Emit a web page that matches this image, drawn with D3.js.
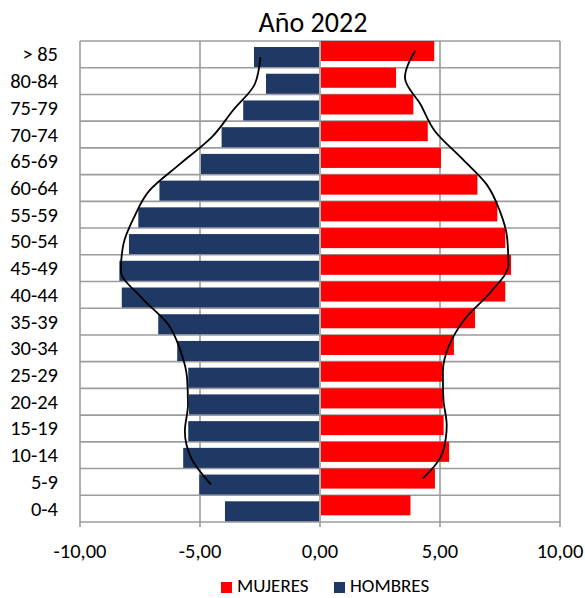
<!DOCTYPE html>
<html>
<head>
<meta charset="utf-8">
<script src="https://cdn.jsdelivr.net/npm/d3@7"></script>
<style>
  html, body { margin: 0; padding: 0; background: #fff; }
  svg { display: block; font-family: Carlito, Calibri, Lato, sans-serif; }
</style>
</head>
<body>
<svg id="chart" width="585" height="598"></svg>
<script>
// Categories from bottom (0-4) to top (> 85)
const categories = ["0-4","5-9","10-14","15-19","20-24","25-29","30-34","35-39","40-44","45-49","50-54","55-59","60-64","65-69","70-74","75-79","80-84","> 85"];
const hombres = [-3.96,-5.03,-5.70,-5.49,-5.46,-5.49,-5.95,-6.74,-8.26,-8.36,-7.96,-7.57,-6.69,-4.96,-4.10,-3.20,-2.25,-2.75];
const mujeres = [3.77,4.79,5.38,5.15,5.12,5.10,5.58,6.46,7.72,7.96,7.72,7.39,6.56,5.04,4.49,3.89,3.17,4.76];
// Reference profile lines (no value for 0-4)
const hombresLinea = [null,-4.54,-5.37,-5.63,-5.50,-5.54,-5.81,-6.33,-7.44,-8.30,-8.19,-7.75,-7.11,-5.83,-4.51,-3.63,-2.71,-2.48];
const mujeresLinea = [null,4.28,5.12,5.28,5.14,5.12,5.39,6.06,7.13,7.85,7.80,7.50,6.95,5.89,4.79,4.19,3.54,3.96];
const xTicks = [-10,-5,0,5,10];
const title = "Año 2022";
const seriesNames = ["MUJERES","HOMBRES"];

const colors = { MUJERES: "#ff0000", HOMBRES: "#1f3864" };
const svg = d3.select("#chart");
const L = 80, R = 560, T = 41, B = 522;

const x = d3.scaleLinear().domain([-10, 10]).range([L, R]);
const y = d3.scaleBand().domain(categories.slice().reverse()).range([T, B]).padding(0);
const bw = y.bandwidth();
const barH = bw * 0.75;
const offM = 0, offH = bw * 0.225;

const fmt = v => d3.format(".2f")(v).replace(".", ",").replace("−", "-");

// horizontal gridlines at band boundaries
const bounds = categories.map(c => y(c)).concat([B]);
svg.append("g").selectAll("line").data(bounds).join("line")
  .attr("x1", L).attr("x2", R)
  .attr("y1", d => d).attr("y2", d => d)
  .attr("stroke", "#9c9c9c").attr("stroke-width", 1.6);

// vertical gridlines
svg.append("g").selectAll("line").data(xTicks).join("line")
  .attr("x1", d => x(d)).attr("x2", d => x(d))
  .attr("y1", T).attr("y2", B + 5)
  .attr("stroke", "#9c9c9c").attr("stroke-width", 1.6);

// bars
svg.append("g").selectAll("rect").data(categories.map((c, i) => ({c, v: hombres[i]}))).join("rect")
  .attr("x", d => x(d.v)).attr("width", d => x(0) - x(d.v) - 1)
  .attr("y", d => y(d.c) + offH).attr("height", barH)
  .attr("fill", colors.HOMBRES);
svg.append("g").selectAll("rect").data(categories.map((c, i) => ({c, v: mujeres[i]}))).join("rect")
  .attr("x", x(0) + 1).attr("width", d => x(d.v) - x(0) - 1)
  .attr("y", d => y(d.c) + offM).attr("height", barH)
  .attr("fill", colors.MUJERES);

// lines
const lineH = d3.line()
  .x(d => x(d.v)).y(d => y(d.c) + offH + barH / 2)
  .curve(d3.curveMonotoneY);
const lineM = d3.line()
  .x(d => x(d.v)).y(d => y(d.c) + offM + barH / 2)
  .curve(d3.curveMonotoneY);
svg.append("path").datum(categories.map((c, i) => ({c, v: hombresLinea[i]})).filter(d => d.v !== null).reverse())
  .attr("d", lineH).attr("fill", "none").attr("stroke", "#000").attr("stroke-width", 1.8);
svg.append("path").datum(categories.map((c, i) => ({c, v: mujeresLinea[i]})).filter(d => d.v !== null).reverse())
  .attr("d", lineM).attr("fill", "none").attr("stroke", "#000").attr("stroke-width", 1.8);

// y labels
svg.append("g").selectAll("text").data(categories).join("text")
  .attr("x", 58).attr("y", d => y(d) + bw / 2 + 7)
  .attr("text-anchor", "end").attr("font-size", 20.5).attr("fill", "#000")
  .text(d => d);

// x labels
svg.append("g").selectAll("text").data(xTicks).join("text")
  .attr("x", d => x(d)).attr("y", 558)
  .attr("text-anchor", "middle").attr("font-size", 20.5).attr("fill", "#000")
  .text(d => fmt(d));

// title
svg.append("text").attr("x", 313).attr("y", 32).attr("text-anchor", "middle")
  .attr("font-size", 28).attr("fill", "#000").text(title);

// legend
const leg = [{n: seriesNames[0], sx: 221, tx: 237}, {n: seriesNames[1], sx: 334, tx: 350}];
const lg = svg.append("g");
lg.selectAll("rect").data(leg).join("rect")
  .attr("x", d => d.sx).attr("y", 582).attr("width", 11).attr("height", 11)
  .attr("fill", d => colors[d.n]);
lg.selectAll("text").data(leg).join("text")
  .attr("x", d => d.tx).attr("y", 592).attr("font-size", 19).attr("fill", "#000")
  .text(d => d.n);
</script>
</body>
</html>
